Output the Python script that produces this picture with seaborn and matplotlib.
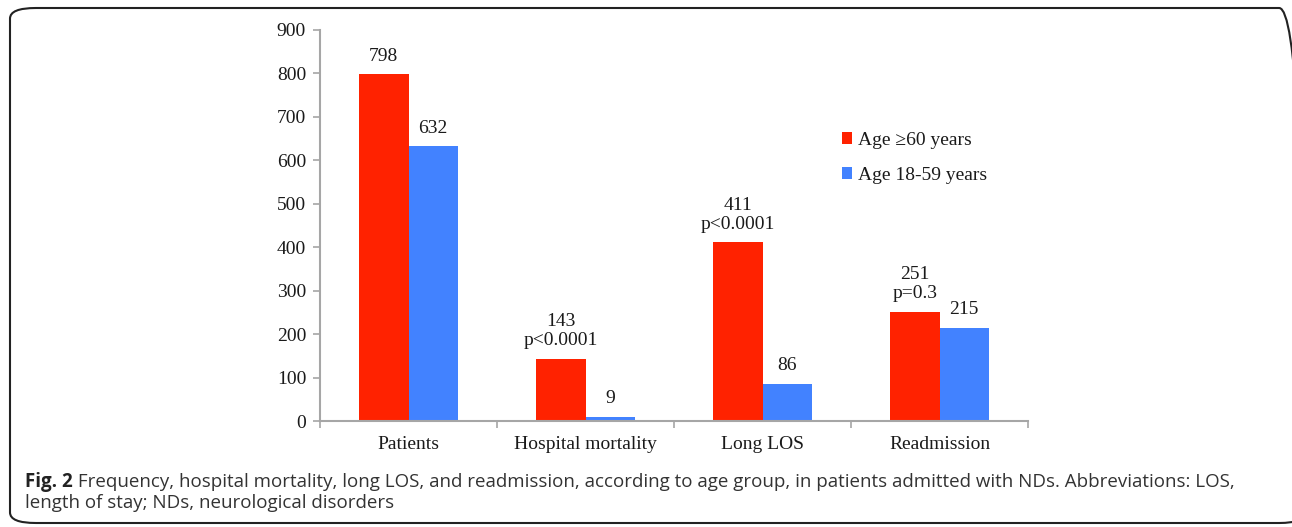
import matplotlib
matplotlib.use("Agg")
import matplotlib.pyplot as plt
import seaborn as sns
import pandas as pd
from matplotlib.patches import FancyBboxPatch, Patch
from matplotlib.ticker import FixedLocator

categories = ["Patients", "Hospital mortality", "Long LOS", "Readmission"]
groups = ["Age \u226560 years", "Age 18-59 years"]
old_values = [798, 143, 411, 251]
young_values = [632, 9, 86, 215]
old_labels = ["798", "143\np<0.0001", "411\np<0.0001", "251\np=0.3"]
young_labels = ["632", "9", "86", "215"]
yticks = [0, 100, 200, 300, 400, 500, 600, 700, 800, 900]
caption_bold = "Fig. 2"
caption_rest = (" Frequency, hospital mortality, long LOS, and readmission, according to age group, "
                "in patients admitted with NDs. Abbreviations: LOS,")
caption_line2 = "length of stay; NDs, neurological disorders"

df = pd.DataFrame({
    "category": categories * 2,
    "group": [groups[0]] * 4 + [groups[1]] * 4,
    "value": old_values + young_values,
})

sns.set_theme(style="white")
plt.rcParams["font.family"] = ["Liberation Serif", "DejaVu Serif"]

W, H = 1292, 527
colors = {groups[0]: "#FF2200", groups[1]: "#4282FF"}
txt = "#1A1A1A"
fig = plt.figure(figsize=(W / 100, H / 100), dpi=100)
ax = fig.add_axes([320 / W, 1 - 421 / H, 708 / W, 391 / H])

sns.barplot(data=df, x="category", y="value", hue="group", palette=colors,
            width=0.56, saturation=1, ax=ax, legend=False, edgecolor="none")

for cont, labs in zip(ax.containers, [old_labels, young_labels]):
    ax.bar_label(cont, labels=labs, padding=7, fontsize=14, linespacing=1.15, color=txt)

ax.set_ylim(0, 900)
ax.set_xlim(-0.5, 3.5)
ax.set_yticks(yticks)
ax.set_yticklabels([str(t) for t in yticks], fontsize=14, color=txt)
ax.set_xticks(range(4))
ax.set_xticklabels(categories, fontsize=14, color=txt)
ax.tick_params(axis="x", which="major", length=0, pad=11)
ax.xaxis.set_minor_locator(FixedLocator([-0.5, 0.5, 1.5, 2.5, 3.5]))
ax.tick_params(axis="x", which="minor", length=5, color="#A6A6A6", width=1.2, bottom=True)
ax.tick_params(axis="y", length=5, color="#A6A6A6", width=1.2, left=True, pad=5)
ax.set_xlabel("")
ax.set_ylabel("")
for s in ["top", "right"]:
    ax.spines[s].set_visible(False)
for s in ["left", "bottom"]:
    ax.spines[s].set_color("#A6A6A6")
    ax.spines[s].set_linewidth(1.5)

handles = [Patch(facecolor=colors[g], edgecolor="none") for g in groups]
ax.legend(handles, groups, loc="upper left", bbox_to_anchor=(0.712, 0.785),
          frameon=False, fontsize=14, handlelength=0.55, handleheight=0.55,
          handletextpad=0.3, labelspacing=0.95, labelcolor=txt)

box = FancyBboxPatch((10 / W, 4 / H), 1295 / W, 515 / H,
                     boxstyle="round,pad=0,rounding_size=0.02",
                     transform=fig.transFigure, facecolor="none",
                     edgecolor="#222222", linewidth=1.5, clip_on=False)
fig.patches.append(box)

sans = ["Open Sans", "DejaVu Sans"]
y1 = 1 - 482 / H
y2 = 1 - 503 / H
t = fig.text(25 / W, y1, caption_bold, fontsize=13.5, fontweight="bold",
             family=sans, va="center", color="#222222")
fig.canvas.draw()
bb = t.get_window_extent()
fig.text(bb.x1 / W, y1, caption_rest, fontsize=13.5, family=sans,
         va="center", color="#333333")
fig.text(25 / W, y2, caption_line2, fontsize=13.5, family=sans,
         va="center", color="#333333")

fig.savefig("out.png", dpi=100)
